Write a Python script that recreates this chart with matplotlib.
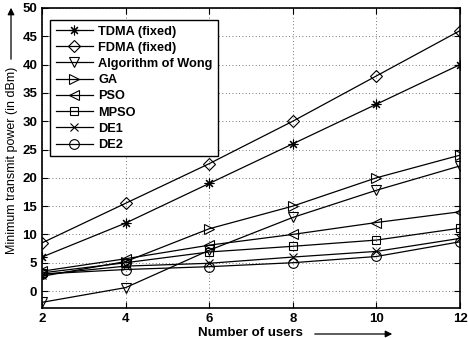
import matplotlib
matplotlib.use("Agg")
import matplotlib.pyplot as plt

users = [2, 4, 6, 8, 10, 12]
tdma = [6.0, 12.0, 19.0, 26.0, 33.0, 40.0]
fdma = [8.5, 15.5, 22.5, 30.0, 38.0, 46.0]
wong = [-2.0, 0.6, 7.2, 13.0, 17.8, 22.1]
ga = [2.6, 5.2, 11.0, 15.0, 20.0, 24.0]
pso = [3.5, 5.7, 8.1, 10.0, 12.1, 14.0]
mpso = [3.2, 5.0, 6.9, 7.9, 9.0, 11.1]
de1 = [2.9, 4.4, 4.9, 6.0, 7.0, 9.3]
de2 = [3.0, 3.8, 4.3, 5.0, 6.1, 8.7]

series = [
    ("TDMA (fixed)", tdma, (8, 2, 0)),
    ("FDMA (fixed)", fdma, "D"),
    ("Algorithm of Wong", wong, "v"),
    ("GA", ga, ">"),
    ("PSO", pso, "<"),
    ("MPSO", mpso, "s"),
    ("DE1", de1, "x"),
    ("DE2", de2, "o"),
]

plt.rcParams["font.family"] = ["Liberation Sans", "DejaVu Sans"]

fig = plt.figure(figsize=(4.68, 3.38), dpi=100)
ax = fig.add_axes([42 / 468, 30 / 338, 418 / 468, 300 / 338])

for name, vals, m in series:
    ms = 7
    if m == "D":
        ms = 6
    elif m == "s":
        ms = 5.5
    elif m == "x":
        ms = 5.5
    ax.plot(users, vals, color="k", linewidth=0.9, marker=m, markersize=ms,
            markerfacecolor="none", markeredgecolor="k", markeredgewidth=0.8,
            label=name)

ax.set_xlim(2, 12)
ax.set_ylim(-3, 50)
ax.set_xticks(users)
ax.set_yticks(range(0, 51, 5))
ax.grid(True, linestyle=(0, (1, 3)), color="k", linewidth=0.6, alpha=0.7)
ax.tick_params(direction="in", top=True, right=True, labelsize=9.5, width=0.8, length=4)
for lab in ax.get_xticklabels() + ax.get_yticklabels():
    lab.set_fontweight("bold")
for s in ax.spines.values():
    s.set_linewidth(1.2)

leg = ax.legend(loc="upper left", bbox_to_anchor=(0.005, 0.98), fontsize=9.2,
                handlelength=2.9, labelspacing=0.33, borderpad=0.4,
                fancybox=False, framealpha=1, edgecolor="k", handletextpad=0.45)
leg.get_frame().set_linewidth(1.0)
for t in leg.get_texts():
    t.set_fontweight("bold")

fig.text(250 / 468, 1 - 333 / 338, "Number of users", ha="center", va="center",
         fontsize=9.5, fontweight="bold")
fig.text(12 / 468, 1 - 160 / 338, "Minimum transmit power (in dBm)", rotation=90,
         ha="center", va="center", fontsize=9)
fig.patches.append(matplotlib.patches.FancyArrowPatch(
    (312 / 468, 1 - 334 / 338), (395 / 468, 1 - 334 / 338), transform=fig.transFigure,
    arrowstyle="-|>", mutation_scale=10, color="k", linewidth=0.9))
fig.patches.append(matplotlib.patches.FancyArrowPatch(
    (11 / 468, 1 - 62 / 338), (11 / 468, 1 - 5 / 338), transform=fig.transFigure,
    arrowstyle="-|>", mutation_scale=10, color="k", linewidth=0.9))

fig.savefig("out.png", dpi=100)
